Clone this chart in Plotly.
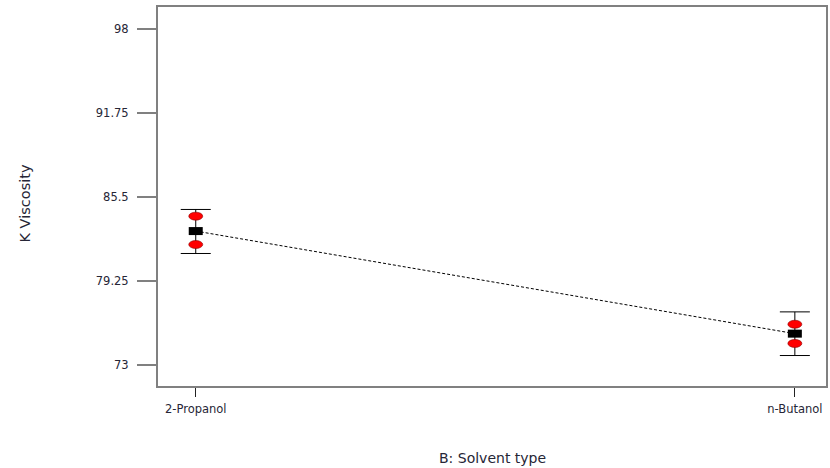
import plotly.graph_objects as go

# Factor levels and model predictions
solvents = ["2-Propanol", "n-Butanol"]
x_pos = [0, 1]
predicted = [82.97, 75.33]
lsd_upper = [84.58, 76.95]
lsd_lower = [81.30, 73.70]
# Design points (actual observations)
design_hi = [84.08, 76.03]
design_lo = [81.97, 74.60]

y_ticks = [73, 79.25, 85.5, 91.75, 98]
y_ticktext = ["73", "79.25", "85.5", "91.75", "98"]

FONT = "DejaVu Sans"
TXT = "#262636"
AXIS = "#808080"

fig = go.Figure()

# Dashed line joining the predicted means
fig.add_trace(go.Scatter(
    x=x_pos, y=predicted, mode="lines",
    line=dict(color="black", width=1, dash="3px,2px"),
    hoverinfo="skip", showlegend=False,
))

# LSD bars around each prediction
fig.add_trace(go.Scatter(
    x=x_pos, y=predicted, mode="markers",
    marker=dict(size=1, color="rgba(0,0,0,0)"),
    error_y=dict(
        type="data", symmetric=False,
        array=[u - p for u, p in zip(lsd_upper, predicted)],
        arrayminus=[p - l for p, l in zip(predicted, lsd_lower)],
        color="black", thickness=1, width=15,
    ),
    showlegend=False,
))

shapes = []
# Red design-point markers (ellipses)
for xv, yv in list(zip(x_pos, design_hi)) + list(zip(x_pos, design_lo)):
    shapes.append(dict(
        type="circle", xref="x", yref="y",
        xsizemode="pixel", ysizemode="pixel",
        xanchor=xv, yanchor=yv,
        x0=-7, x1=7, y0=-4, y1=4,
        fillcolor="#ff0000", line=dict(color="#8b0000", width=0.6),
    ))
# Black prediction markers
for xv, yv in zip(x_pos, predicted):
    shapes.append(dict(
        type="rect", xref="x", yref="y",
        xsizemode="pixel", ysizemode="pixel",
        xanchor=xv, yanchor=yv,
        x0=-7, x1=7, y0=-4, y1=4,
        fillcolor="black", line=dict(color="black", width=0),
    ))

fig.update_layout(
    width=830, height=468,
    margin=dict(l=158, r=2, t=7, b=82),
    paper_bgcolor="white", plot_bgcolor="white",
    font=dict(family=FONT, color=TXT, size=11.5),
    shapes=shapes,
    showlegend=False,
    annotations=[
        dict(text="B: Solvent type", xref="paper", yref="paper",
             x=0.5, y=0, yshift=-72, xanchor="center", yanchor="middle",
             showarrow=False, font=dict(family=FONT, size=14, color=TXT)),
        dict(text="K Viscosity", xref="paper", yref="paper",
             x=0, y=0.5, xshift=-134, yshift=-7, textangle=-90,
             xanchor="center", yanchor="middle",
             showarrow=False, font=dict(family=FONT, size=14.5, color=TXT)),
    ],
)

fig.update_xaxes(
    range=[-0.063, 1.052],
    tickvals=x_pos, ticktext=solvents,
    showgrid=False, zeroline=False,
    showline=True, linecolor=AXIS, linewidth=2, mirror=True,
    ticks="outside", ticklen=9, tickwidth=1, tickcolor="#222222",
    tickfont=dict(family=FONT, size=11.5, color=TXT),
    ticklabelstandoff=2,
)
fig.update_yaxes(
    range=[71.43, 99.66],
    tickvals=y_ticks, ticktext=y_ticktext,
    showgrid=False, zeroline=False,
    showline=True, linecolor=AXIS, linewidth=2, mirror=True,
    ticks="outside", ticklen=19, tickwidth=2, tickcolor=AXIS,
    tickfont=dict(family=FONT, size=11.5, color=TXT),
    ticklabelstandoff=6,
)

fig.write_html("out.html")
